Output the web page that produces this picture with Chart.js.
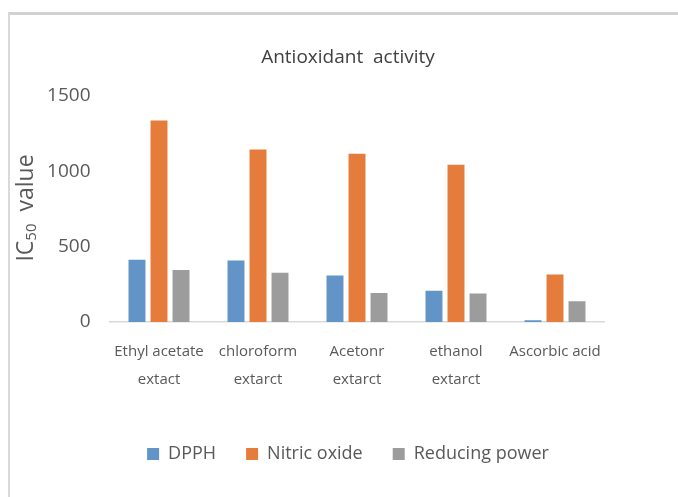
<!DOCTYPE html>
<html>
<head>
<meta charset="utf-8">
<script src="https://cdn.jsdelivr.net/npm/chart.js@4"></script>
<style>
  html, body { margin: 0; padding: 0; background: #fff; }
  #wrap { position: relative; width: 678px; height: 497px; overflow: hidden; }
  #frame {
    position: absolute; left: 8px; top: 12px; right: -10px; bottom: -10px;
    border-top: 3px solid #d2d2d2; border-left: 2px solid #d9d9d9;
  }
  canvas { position: absolute; left: 0; top: 0; }
</style>
</head>
<body>
<div id="wrap">
  <div id="frame"></div>
  <canvas id="chart" width="678" height="497"></canvas>
</div>
<script>
// ---- data ----
const categories = [
    ["Ethyl acetate", "extact"],
    ["chloroform", "extarct"],
    ["Acetonr", "extarct"],
    ["ethanol", "extarct"],
    "Ascorbic acid"
];
const dpph = [413, 409, 309, 207, 11];
const nitricOxide = [1338, 1145, 1116, 1043, 316];
const reducingPower = [345, 327, 193, 189, 138];
const yTicks = [0, 500, 1000, 1500];

const FONT = "'Open Sans', 'Noto Sans', sans-serif";
const TEXT = '#595959';

// draws the rotated "IC50 value" axis title with a real subscript
const yTitlePlugin = {
    id: 'yTitle',
    afterDraw(chart) {
        const c = chart.ctx;
        c.save();
        c.translate(26, 208);
        c.rotate(-Math.PI / 2);
        c.fillStyle = TEXT;
        c.textBaseline = 'middle';
        const big = '23px ' + FONT, small = '15px ' + FONT;
        c.font = big;
        const w1 = c.measureText('IC').width;
        const w3 = c.measureText('  value').width;
        c.font = small;
        const w2 = c.measureText('50').width;
        let x = -(w1 + w2 + w3) / 2;
        c.font = big;
        c.fillText('IC', x, 0);
        x += w1;
        c.font = small;
        c.fillText('50', x, 6);
        x += w2;
        c.font = big;
        c.fillText('  value', x, 0);
        c.restore();
    }
};

new Chart(document.getElementById('chart'), {
    type: 'bar',
    data: {
        labels: categories,
        datasets: [
            { label: 'DPPH', data: dpph, backgroundColor: '#6394c8' },
            { label: 'Nitric oxide', data: nitricOxide, backgroundColor: '#e67c3b' },
            { label: 'Reducing power', data: reducingPower, backgroundColor: '#9c9c9c' }
        ]
    },
    options: {
        responsive: false,
        animation: false,
        devicePixelRatio: 1,
        layout: { padding: { left: 45, right: 27, top: 0, bottom: 24 } },
        datasets: {
            bar: { categoryPercentage: 0.667, barPercentage: 0.77 }
        },
        plugins: {
            title: {
                display: true,
                text: 'Antioxidant  activity',
                color: '#404040',
                font: { family: FONT, size: 19, weight: 'normal', lineHeight: 1.2 },
                padding: { top: 46.6, bottom: 26.6 }
            },
            legend: {
                position: 'bottom',
                labels: {
                    boxWidth: 12,
                    boxHeight: 12,
                    padding: 30,
                    color: TEXT,
                    font: { family: FONT, size: 18 }
                }
            },
            tooltip: { enabled: false }
        },
        scales: {
            x: {
                grid: { display: false, drawTicks: false },
                border: { display: true, color: '#d9d9d9', width: 1.5 },
                ticks: {
                    color: TEXT,
                    padding: 15,
                    maxRotation: 0,
                    autoSkip: false,
                    font: { family: FONT, size: 15, lineHeight: 1.9 }
                },
                afterFit(scale) { scale.height = 93; }
            },
            y: {
                min: 0,
                max: 1500,
                grid: { display: false, drawTicks: false },
                border: { display: false },
                afterBuildTicks(scale) { scale.ticks = yTicks.map(v => ({ value: v })); },
                ticks: {
                    color: TEXT,
                    padding: 19,
                    font: { family: FONT, size: 19 },
                    callback: v => String(v)
                },
                afterFit(scale) { scale.width = 64.5; }
            },
            // empty axis on the right, only keeps the plot where the reference has it
            spacer: {
                type: 'linear',
                position: 'right',
                grid: { display: false, drawTicks: false },
                border: { display: false },
                ticks: { display: false },
                afterFit(scale) { scale.width = 46.5; }
            }
        }
    },
    plugins: [yTitlePlugin]
});
</script>
</body>
</html>
